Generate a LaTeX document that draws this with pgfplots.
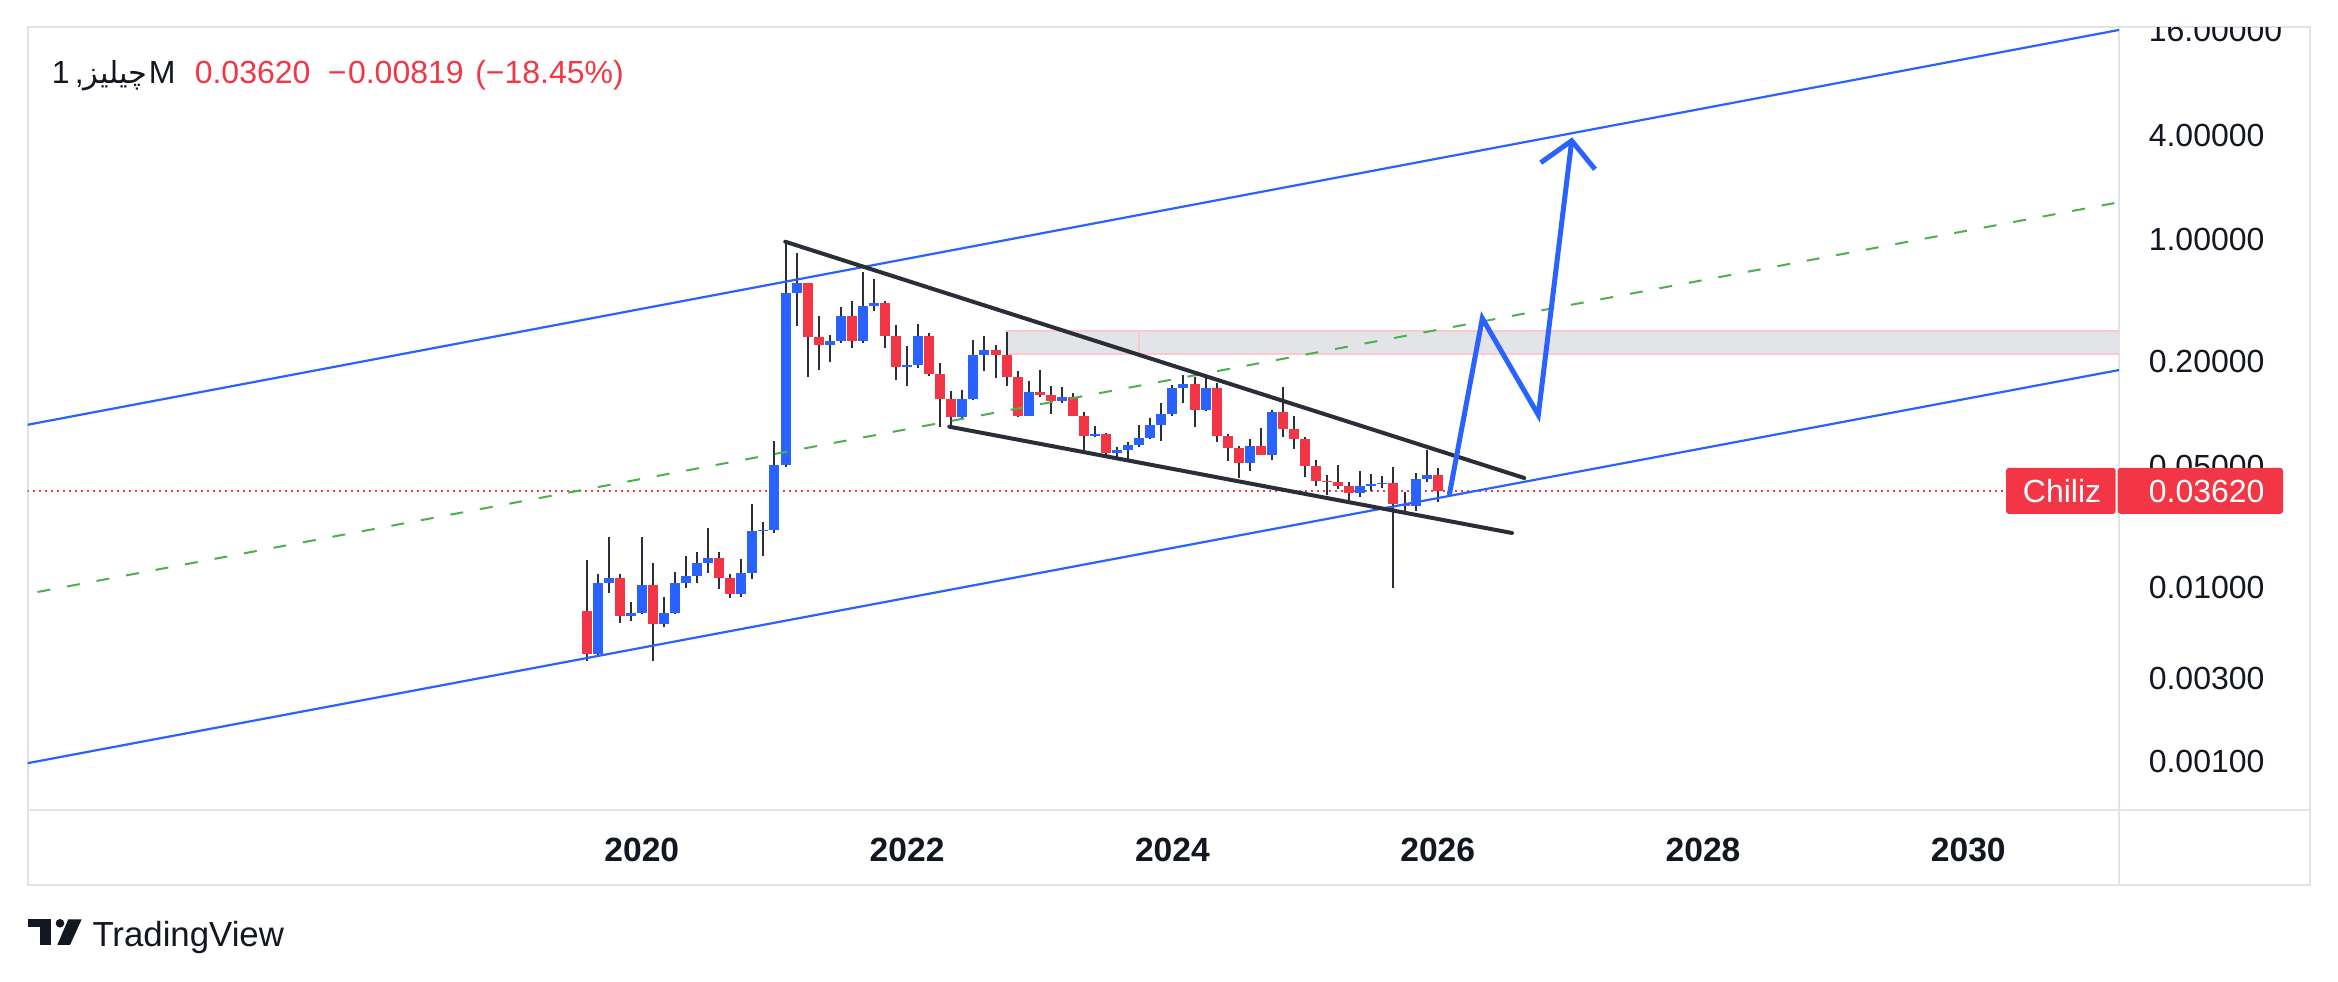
\documentclass[border=0pt]{standalone}
\usepackage{fontspec}
\setmainfont{Liberation Sans}
\newfontfamily\arabicfont[Script=Arabic]{DejaVu Sans}
\usepackage{pgfplots}
\usepackage{pgfplotstable}
\pgfplotsset{compat=1.18}
\TeXXeTstate=1
\definecolor{tvblue}{HTML}{2962FF}
\definecolor{tvred}{HTML}{F23645}
\definecolor{tvgreen}{HTML}{4CAF50}
\definecolor{tvdark}{HTML}{2A2E39}
\definecolor{tvtext}{HTML}{131722}
\definecolor{framecol}{HTML}{E0E3EB}
\definecolor{rectfill}{HTML}{E3E4E8}
\definecolor{rectedge}{HTML}{F9C9CE}

% monthly OHLC (x = decimal year)
\pgfplotstableread{
x o h l c
2019.5833 0.007357 0.014446 0.003812 0.004164
2019.6667 0.004164 0.012004 0.004110 0.01061
2019.7500 0.01061 0.019507 0.009371 0.011339
2019.8333 0.011339 0.012004 0.006301 0.006914
2019.9167 0.006914 0.008254 0.006471 0.007136
2020.0000 0.007136 0.019507 0.007050 0.010378
2020.0833 0.010378 0.013825 0.003812 0.006218
2020.1667 0.006218 0.008854 0.005929 0.007136
2020.2500 0.007136 0.012279 0.007050 0.01061
2020.3333 0.01061 0.015232 0.010014 0.011688
2020.4167 0.011688 0.015996 0.01061 0.013883
2020.5000 0.013883 0.021979 0.012124 0.014834
2020.5833 0.014834 0.015996 0.009881 0.011429
2020.6667 0.011429 0.012004 0.008772 0.009250
2020.7500 0.009250 0.014580 0.008891 0.012124
2020.8333 0.012124 0.030192 0.011279 0.021205
2020.9167 0.021205 0.023788 0.015291 0.021406
2021.0000 0.021406 0.069783 0.020738 0.050582
2021.0833 0.050582 0.96228 0.049659 0.49443
2021.1667 0.49443 0.83641 0.31955 0.56209
2021.2500 0.56209 0.5650 0.16337 0.27733
2021.3333 0.27733 0.36483 0.17856 0.24946
2021.4167 0.24946 0.28251 0.19925 0.26099
2021.5000 0.26099 0.40933 0.25418 0.36483
2021.5833 0.36483 0.44486 0.23980 0.26099
2021.6667 0.26099 0.65587 0.25618 0.41635
2021.7500 0.41635 0.59293 0.39148 0.43157
2021.8333 0.43157 0.44668 0.23980 0.28108
2021.9167 0.28108 0.32378 0.15641 0.18655
2022.0000 0.18655 0.24527 0.14504 0.19081
2022.0833 0.19081 0.32813 0.18264 0.27994
2022.1667 0.27994 0.29020 0.16600 0.16866
2022.2500 0.16866 0.19507 0.08431 0.12120
2022.3333 0.12120 0.13521 0.08254 0.09623
2022.4167 0.09623 0.13703 0.09335 0.12120
2022.5000 0.12120 0.26548 0.12004 0.21779
2022.5833 0.21779 0.27994 0.17692 0.23264
2022.6667 0.23264 0.24849 0.15996 0.21869
2022.7500 0.21869 0.29641 0.14504 0.16337
2022.8333 0.16337 0.17620 0.09623 0.09766
2022.9167 0.09766 0.15434 0.09720 0.13342
2023.0000 0.13342 0.17856 0.12438 0.12875
2023.0833 0.12875 0.14447 0.09975 0.11894
2023.1667 0.11894 0.14200 0.11584 0.12438
2023.2500 0.12438 0.13116 0.09720 0.09752
2023.3333 0.09752 0.10200 0.06137 0.07482
2023.4167 0.07482 0.08509 0.07384 0.07653
2023.5000 0.07653 0.07756 0.05773 0.05953
2023.5833 0.05953 0.06469 0.05667 0.06194
2023.6667 0.06194 0.06884 0.05521 0.06617
2023.7500 0.06617 0.08621 0.06469 0.07289
2023.8333 0.07289 0.09461 0.07200 0.08621
2023.9167 0.08621 0.11584 0.07006 0.09975
2024.0000 0.09975 0.14696 0.09750 0.14068
2024.0833 0.14068 0.16711 0.11584 0.14834
2024.1667 0.14834 0.16337 0.08431 0.10558
2024.2500 0.10558 0.16064 0.10418 0.14068
2024.3333 0.14068 0.15031 0.06894 0.07482
2024.4167 0.07482 0.07653 0.05362 0.06368
2024.5000 0.06368 0.06538 0.04281 0.05222
2024.5833 0.05222 0.07165 0.04710 0.06530
2024.6667 0.06530 0.08254 0.05773 0.05820
2024.7500 0.05820 0.10514 0.05426 0.10281
2024.8333 0.10281 0.14200 0.07384 0.08145
2024.9167 0.08145 0.09715 0.06301 0.07136
2025.0000 0.07136 0.07384 0.04339 0.05030
2025.0833 0.05030 0.05426 0.03846 0.04125
2025.1667 0.04125 0.04449 0.03427 0.04072
2025.2500 0.04072 0.05077 0.03697 0.03846
2025.3333 0.03846 0.04055 0.03196 0.03491
2025.4167 0.03491 0.04691 0.03339 0.03846
2025.5000 0.03846 0.04508 0.03600 0.03950
2025.5833 0.03950 0.04390 0.03761 0.04018
2025.6667 0.04018 0.04945 0.010014 0.03031
2025.7500 0.03031 0.03566 0.02773 0.02964
2025.8333 0.02964 0.04587 0.02773 0.04219
2025.9167 0.04219 0.06194 0.04072 0.04439
2026.0000 0.04439 0.04880 0.03125 0.03620
}\ohlc

\begin{document}
\begin{tikzpicture}[x=0.25pt,y=0.25pt]
\useasboundingbox (0,0) rectangle (2338,982);
\fill[white] (0,0) rectangle (2338,982);
% pane frame
\draw[framecol, line width=0.5pt] (27.5,97) rectangle (2310,954.5);
\draw[framecol, line width=0.5pt] (2119,97) -- (2119,954.5);
\draw[framecol, line width=0.5pt] (27.5,172) -- (2310,172);

\begin{axis}[
  at={(6.875pt,43pt)}, anchor=south west,
  scale only axis, width=522.875pt, height=195.625pt,
  xmin=2015.369, xmax=2031.136,
  ymode=log, ymin=0.0005284, ymax=16.603,
  axis line style={draw=none},
  xtick={2020,2022,2024,2026,2028,2030},
  xticklabels={2020,2022,2024,2026,2028,2030},
  xticklabel style={font=\bfseries\fontsize{8.4}{10}\selectfont, text=tvtext, anchor=base, inner sep=0pt, yshift=-13pt},
  ytick={0.001,0.003,0.01,0.05,0.2,1,4},
  yticklabels={0.00100,0.00300,0.01000,0.05000,0.20000,1.00000,4.00000},
  yticklabel pos=right,
  yticklabel style={font=\fontsize{8}{10}\selectfont, text=tvtext, anchor=west, inner sep=0pt, xshift=7.25pt},
  tick style={draw=none}, major tick length=0pt, minor tick length=0pt,
  clip=true,
]
% zone rectangle
\addplot[fill=rectfill, draw=rectedge, line width=0.5pt] coordinates {(2022.75,0.2198) (2032,0.2198) (2032,0.2991) (2022.75,0.2991)} -- cycle;
\addplot[rectedge, line width=0.5pt] coordinates {(2023.75,0.2198) (2023.75,0.2991)};
% last price line
\addplot[tvred, line width=0.5pt, dash pattern=on 0.5pt off 1pt] coordinates {(2015,0.0362) (2030.284,0.0362)};
% candles
\pgfplotstablegetrowsof{\ohlc}
\pgfmathtruncatemacro\lastrow{\pgfplotsretval-1}
\pgfplotsforeachungrouped \i in {0,...,\lastrow}{%
  \pgfplotstablegetelem{\i}{x}\of\ohlc\let\cx\pgfplotsretval
  \pgfplotstablegetelem{\i}{o}\of\ohlc\let\co\pgfplotsretval
  \pgfplotstablegetelem{\i}{h}\of\ohlc\let\ch\pgfplotsretval
  \pgfplotstablegetelem{\i}{l}\of\ohlc\let\cl\pgfplotsretval
  \pgfplotstablegetelem{\i}{c}\of\ohlc\let\cc\pgfplotsretval
  \pgfmathparse{\cc>=\co}%
  \ifdim\pgfmathresult pt>0.5pt \def\bodycol{tvblue}\else\def\bodycol{tvred}\fi
  \edef\next{%
    \noexpand\addplot[tvdark, line width=0.5pt] coordinates {(\cx,\cl) (\cx,\ch)};
    \noexpand\addplot[\bodycol, line width=2.5pt, line cap=butt] coordinates {(\cx,\co) (\cx,\cc)};
  }\next
}
% channel
\addplot[tvgreen, line width=0.5pt, dash pattern=on 3.25pt off 4.25pt] coordinates {(2015,0.008171) (2032,2.184)};
\addplot[tvblue, line width=0.55pt] coordinates {(2015,0.07653) (2032,21.40)};
\addplot[tvblue, line width=0.55pt] coordinates {(2015,0.000869) (2032,0.2373)};
% wedge
\addplot[tvdark, line width=1pt, line cap=round] coordinates {(2021.0807,0.9752) (2026.652,0.04276)};
\addplot[tvdark, line width=1pt, line cap=round] coordinates {(2022.318,0.08431) (2026.560,0.02065)};
% projection arrow
\addplot[tvblue, line width=1.25pt, line join=miter] coordinates {(2026.0875,0.03414) (2026.3362,0.35386) (2026.7584,0.09842) (2027.0102,3.711)};
\addplot[tvblue, line width=1.25pt, line join=miter] coordinates {(2026.7765,2.774) (2027.0102,3.711) (2027.1859,2.542)};
\end{axis}

% clipped top price label
\begin{scope}
\clip (2119,97) rectangle (2310,954.5);
\node[anchor=west, inner sep=0pt, font=\fontsize{8}{10}\selectfont, text=tvtext] at (2148,951.7) {16.00000};
\end{scope}

% last price labels
\fill[tvred, rounded corners=0.75pt] (2006,468) rectangle (2115.7,514.2);
\fill[tvred, rounded corners=0.75pt] (2117.7,468) rectangle (2283,514.2);
\node[anchor=base, inner sep=0pt, font=\fontsize{8}{10}\selectfont, text=white] at (2062,479.5) {Chiliz};
\node[anchor=base west, inner sep=0pt, font=\fontsize{8}{10}\selectfont, text=white] at (2148,479.5) {0.03620};

% title
\node[anchor=base west, inner sep=0pt, font=\fontsize{8}{10}\selectfont, text=tvtext] at (51,898.8) {1\kern1.3pt,{\arabicfont\fontsize{7.6}{10}\selectfont\beginR چيليز\endR}\kern0.3pt M};
\node[anchor=base west, inner sep=0pt, font=\fontsize{8}{10}\selectfont, text=tvred] at (194,898.8) {0.03620};
\node[anchor=base west, inner sep=0pt, font=\fontsize{8}{10}\selectfont, text=tvred] at (327,898.8) {−\kern0.4pt0.00819};
\node[anchor=base west, inner sep=0pt, font=\fontsize{8}{10}\selectfont, text=tvred] at (474.5,898.8) {(−18.45\%)};

% logo
\fill[tvtext] (28.3,62.7) rectangle (50.7,55.3);
\fill[tvtext] (40,62.7) rectangle (50.7,37);
\fill[tvtext] (60,58.7) circle (4.3);
\fill[tvtext] (68.3,62.7) -- (81.7,62.7) -- (70,37) -- (57.3,37) -- cycle;
\node[anchor=base west, inner sep=0pt, font=\fontsize{8.7}{10}\selectfont, text=tvtext] at (91.7,35.3) {TradingView};
\end{tikzpicture}
\end{document}
